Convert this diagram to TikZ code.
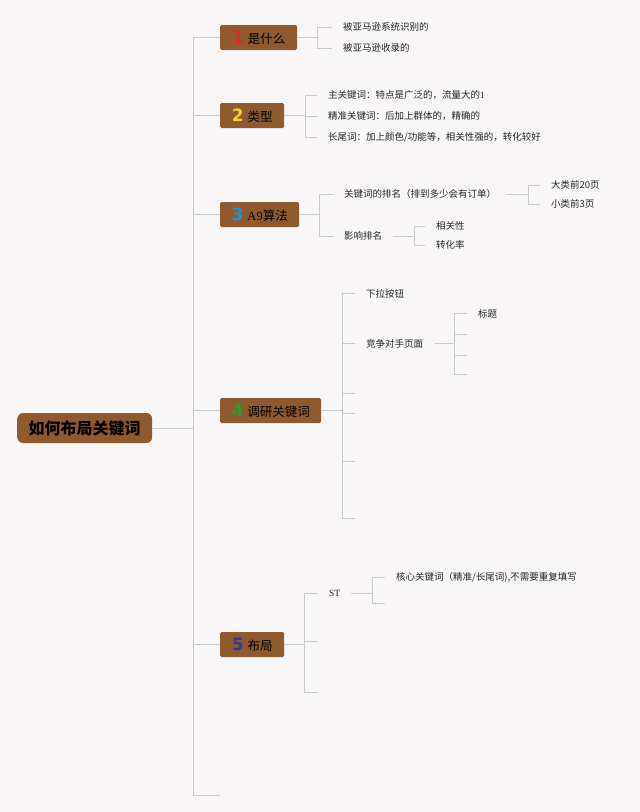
\documentclass[tikz,border=0pt]{standalone}
\usepackage{fontspec}
\setmainfont{Noto Sans CJK SC}
\newfontfamily\numfont{DejaVu Sans}
\newfontfamily\latinserif{Liberation Serif}
\definecolor{bgc}{HTML}{F8F6F6}
\definecolor{linec}{HTML}{CACACA}
\definecolor{brownc}{HTML}{8E5A2E}
\definecolor{n1c}{HTML}{E0262B}
\definecolor{n2c}{HTML}{F5D130}
\definecolor{n3c}{HTML}{2A8FCF}
\definecolor{n4c}{HTML}{2E9B2E}
\definecolor{n5c}{HTML}{2C3E9E}
\newcommand\numc[2]{{\numfont\bfseries\fontsize{17}{17}\selectfont\textcolor{#1}{#2}}\hspace{4pt}}
\begin{document}
\begin{tikzpicture}[x=1pt,y=-1pt,
  conn/.style={draw=linec, line width=0.9pt},
  rootbox/.style={fill=brownc, rounded corners=6pt, minimum width=135pt, minimum height=30pt, inner sep=0pt, font=\bfseries\fontsize{16}{16}\selectfont, text=black, anchor=west},
  topic/.style={fill=brownc, rounded corners=1.5pt, minimum height=25pt, inner sep=0pt, font=\fontsize{12.5}{12.5}\selectfont, text=black, anchor=west},
  leaf/.style={inner xsep=11pt, inner ysep=2pt, font=\fontsize{9.5}{9.5}\selectfont, text=black!85, anchor=west}]
\fill[bgc] (0,0) rectangle (640,812);
\useasboundingbox (0,0) rectangle (640,812);

% root
\node[rootbox] (root) at (17,428) {如何布局关键词};

% topics
\node[topic, minimum width=77pt] (n1) at (220,37.5) {\numc{n1c}{1}是什么};
\node[topic, minimum width=64pt] (n2) at (220,115.5) {\numc{n2c}{2}类型};
\node[topic, minimum width=79pt] (n3) at (220,214.5) {\numc{n3c}{3}{\latinserif A9}算法};
\node[topic, minimum width=101pt] (n4) at (220,410.5) {\numc{n4c}{4}调研关键词};
\node[topic, minimum width=64pt] (n5) at (220,644.5) {\numc{n5c}{5}布局};

% trunk
\draw[conn] (root.east) -- (193,428) coordinate (t);
\coordinate (tend) at (220,795);
\draw[conn] (t) |- (n1.west);
\draw[conn] (t) |- (n2.west);
\draw[conn] (t) |- (n3.west);
\draw[conn] (t) |- (n4.west);
\draw[conn] (t) |- (n5.west);
\draw[conn] (t) |- (tend);

% leaves of 1
\node[leaf] (a11) at (332,27) {被亚马逊系统识别的};
\node[leaf] (a12) at (332,48) {被亚马逊收录的};
\draw[conn] (n1.east) -- ++(20,0) coordinate (b1);
\draw[conn] (b1) |- (a11.west);
\draw[conn] (b1) |- (a12.west);

% leaves of 2
\node[leaf] (a21) at (317,95) {主关键词：特点是广泛的，流量大的{\latinserif 1}};
\node[leaf] (a22) at (317,116) {精准关键词：后加上群体的，精确的};
\node[leaf] (a23) at (317,137) {长尾词：加上颜色/功能等，相关性强的，转化较好};
\draw[conn] (n2.east) -- ++(21,0) coordinate (b2);
\draw[conn] (b2) |- (a21.west);
\draw[conn] (b2) |- (a22.west);
\draw[conn] (b2) |- (a23.west);

% leaves of 3
\node[leaf] (a31) at (333,194) {关键词的排名（排到多少会有订单）};
\node[leaf] (a32) at (333,236) {影响排名};
\draw[conn] (n3.east) -- ++(20,0) coordinate (b3);
\draw[conn] (b3) |- (a31.west);
\draw[conn] (b3) |- (a32.west);
\node[leaf] (a311) at (540,185) {大类前20页};
\node[leaf] (a312) at (540,204) {小类前3页};
\draw[conn] (a31.east) -- ++(21,0) coordinate (b31);
\draw[conn] (b31) |- (a311.west);
\draw[conn] (b31) |- (a312.west);
\node[leaf] (a321) at (425,226) {相关性};
\node[leaf] (a322) at (425,245) {转化率};
\draw[conn] (a32.east) -- ++(21,0) coordinate (b32);
\draw[conn] (b32) |- (a321.west);
\draw[conn] (b32) |- (a322.west);

% leaves of 4
\node[leaf] (a41) at (355,293.5) {下拉按钮};
\node[leaf] (a42) at (355,343.5) {竞争对手页面};
\coordinate (e43) at (355,393);
\coordinate (e44) at (355,413);
\coordinate (e45) at (355,461);
\coordinate (e46) at (355,518);
\draw[conn] (n4.east) -- ++(21,0) coordinate (b4);
\draw[conn] (b4) |- (a41.west);
\draw[conn] (b4) |- (a42.west);
\draw[conn] (b4) |- (e43);
\draw[conn] (b4) |- (e44);
\draw[conn] (b4) |- (e45);
\draw[conn] (b4) |- (e46);
\node[leaf] (a421) at (467,313.5) {标题};
\coordinate (e422) at (467,334);
\coordinate (e423) at (467,355);
\coordinate (e424) at (467,374);
\draw[conn] (a42.east) -- ++(20,0) coordinate (b42);
\draw[conn] (b42) |- (a421.west);
\draw[conn] (b42) |- (e422);
\draw[conn] (b42) |- (e423);
\draw[conn] (b42) |- (e424);

% leaves of 5
\node[leaf] (a51) at (318,593.5) {\latinserif ST};
\coordinate (e52) at (318,641);
\coordinate (e53) at (318,692);
\draw[conn] (n5.east) -- ++(20,0) coordinate (b5);
\draw[conn] (b5) |- (a51.west);
\draw[conn] (b5) |- (e52);
\draw[conn] (b5) |- (e53);
\node[leaf] (a511) at (385,577) {核心关键词（精准/长尾词),不需要重复填写};
\coordinate (e512) at (385,603);
\draw[conn] (a51.east) -- ++(21,0) coordinate (b51);
\draw[conn] (b51) |- (a511.west);
\draw[conn] (b51) |- (e512);
\end{tikzpicture}
\end{document}
